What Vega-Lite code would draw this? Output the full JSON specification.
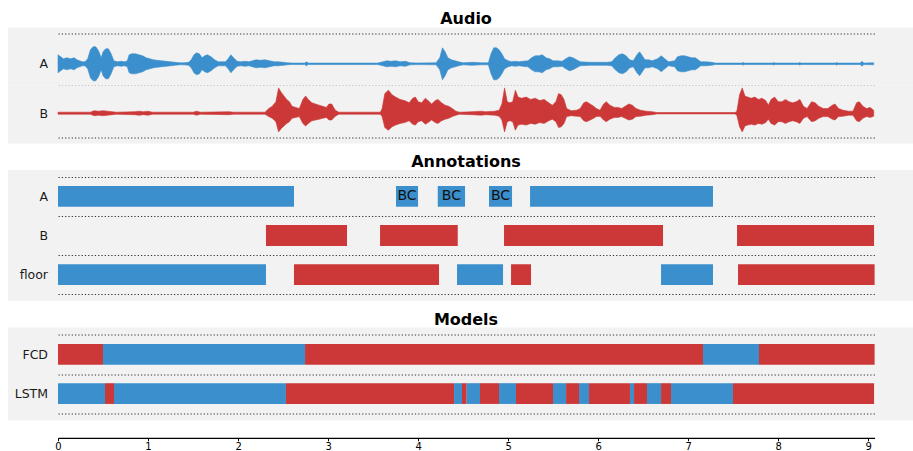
{
  "$schema": "https://vega.github.io/schema/vega-lite/v6.json",
  "padding": {"left": 8, "top": 10.5, "right": 0, "bottom": 0},
  "background": "white",
  "config": {
    "font": "DejaVu Sans",
    "view": {"stroke": null, "fill": "#f2f2f2"},
    "title": {"fontSize": 16, "fontWeight": "bold", "color": "black", "anchor": "middle", "dx": 5.5, "offset": 1, "baseline": "alphabetic"},
    "axis": {"minExtent": 0, "maxExtent": 0}
  },
  "datasets": {
    "waveA": [
      {"t":0.00,"hi":0.45,"lo":-0.45},{"t":0.03,"hi":0.35,"lo":-0.35},{"t":0.06,"hi":0.25,"lo":-0.25},{"t":0.10,"hi":0.3,"lo":-0.3},
      {"t":0.14,"hi":0.25,"lo":-0.25},{"t":0.18,"hi":0.3,"lo":-0.3},{"t":0.21,"hi":0.2,"lo":-0.2},{"t":0.24,"hi":0.15,"lo":-0.15},
      {"t":0.27,"hi":0.1,"lo":-0.1},{"t":0.30,"hi":0.1,"lo":-0.1},{"t":0.33,"hi":0.25,"lo":-0.25},{"t":0.36,"hi":0.7,"lo":-0.7},
      {"t":0.39,"hi":0.85,"lo":-0.85},{"t":0.42,"hi":0.85,"lo":-0.85},{"t":0.45,"hi":0.65,"lo":-0.65},{"t":0.48,"hi":0.3,"lo":-0.3},
      {"t":0.50,"hi":0.6,"lo":-0.6},{"t":0.53,"hi":0.75,"lo":-0.75},{"t":0.56,"hi":0.75,"lo":-0.75},{"t":0.59,"hi":0.5,"lo":-0.5},
      {"t":0.62,"hi":0.15,"lo":-0.15},{"t":0.66,"hi":0.1,"lo":-0.1},{"t":0.70,"hi":0.125,"lo":-0.125},{"t":0.74,"hi":0.1,"lo":-0.1},
      {"t":0.77,"hi":0.15,"lo":-0.15},{"t":0.79,"hi":0.45,"lo":-0.45},{"t":0.82,"hi":0.5,"lo":-0.5},{"t":0.86,"hi":0.5,"lo":-0.5},
      {"t":0.90,"hi":0.45,"lo":-0.45},{"t":0.94,"hi":0.4,"lo":-0.4},{"t":0.98,"hi":0.3,"lo":-0.3},{"t":1.02,"hi":0.25,"lo":-0.25},
      {"t":1.06,"hi":0.2,"lo":-0.2},{"t":1.10,"hi":0.175,"lo":-0.175},{"t":1.15,"hi":0.15,"lo":-0.15},{"t":1.20,"hi":0.125,"lo":-0.125},
      {"t":1.25,"hi":0.1,"lo":-0.1},{"t":1.30,"hi":0.075,"lo":-0.075},{"t":1.35,"hi":0.05,"lo":-0.05},{"t":1.40,"hi":0.05,"lo":-0.05},
      {"t":1.45,"hi":0.075,"lo":-0.075},{"t":1.48,"hi":0.2,"lo":-0.2},{"t":1.51,"hi":0.45,"lo":-0.45},{"t":1.54,"hi":0.55,"lo":-0.55},
      {"t":1.57,"hi":0.5,"lo":-0.5},{"t":1.60,"hi":0.3,"lo":-0.3},{"t":1.63,"hi":0.4,"lo":-0.4},{"t":1.66,"hi":0.45,"lo":-0.45},
      {"t":1.70,"hi":0.35,"lo":-0.35},{"t":1.74,"hi":0.2,"lo":-0.2},{"t":1.78,"hi":0.1,"lo":-0.1},{"t":1.82,"hi":0.1,"lo":-0.1},
      {"t":1.86,"hi":0.1,"lo":-0.1},{"t":1.89,"hi":0.25,"lo":-0.25},{"t":1.92,"hi":0.45,"lo":-0.45},{"t":1.95,"hi":0.3,"lo":-0.3},
      {"t":1.99,"hi":0.125,"lo":-0.125},{"t":2.03,"hi":0.1,"lo":-0.1},{"t":2.08,"hi":0.125,"lo":-0.125},{"t":2.12,"hi":0.1,"lo":-0.1},
      {"t":2.16,"hi":0.15,"lo":-0.15},{"t":2.20,"hi":0.2,"lo":-0.2},{"t":2.25,"hi":0.175,"lo":-0.175},{"t":2.30,"hi":0.2,"lo":-0.2},
      {"t":2.35,"hi":0.15,"lo":-0.15},{"t":2.40,"hi":0.1,"lo":-0.1},{"t":2.45,"hi":0.1,"lo":-0.1},{"t":2.50,"hi":0.075,"lo":-0.075},
      {"t":2.55,"hi":0.05,"lo":-0.05},{"t":2.60,"hi":0.035,"lo":-0.035},{"t":2.74,"hi":0.035,"lo":-0.035},{"t":2.76,"hi":0.1,"lo":-0.1},
      {"t":2.78,"hi":0.035,"lo":-0.035},{"t":3.55,"hi":0.035,"lo":-0.035},{"t":3.61,"hi":0.1,"lo":-0.1},{"t":3.65,"hi":0.15,"lo":-0.15},
      {"t":3.70,"hi":0.125,"lo":-0.125},{"t":3.75,"hi":0.15,"lo":-0.15},{"t":3.80,"hi":0.1,"lo":-0.1},{"t":3.86,"hi":0.125,"lo":-0.125},
      {"t":3.91,"hi":0.05,"lo":-0.05},{"t":4.00,"hi":0.04,"lo":-0.04},{"t":4.20,"hi":0.05,"lo":-0.05},{"t":4.24,"hi":0.3,"lo":-0.3},
      {"t":4.27,"hi":0.8,"lo":-0.8},{"t":4.30,"hi":0.6,"lo":-0.6},{"t":4.33,"hi":0.3,"lo":-0.3},{"t":4.37,"hi":0.2,"lo":-0.2},
      {"t":4.41,"hi":0.15,"lo":-0.15},{"t":4.45,"hi":0.1,"lo":-0.1},{"t":4.50,"hi":0.05,"lo":-0.05},{"t":4.60,"hi":0.075,"lo":-0.075},
      {"t":4.70,"hi":0.05,"lo":-0.05},{"t":4.78,"hi":0.05,"lo":-0.05},{"t":4.81,"hi":0.5,"lo":-0.5},{"t":4.84,"hi":0.8,"lo":-0.8},
      {"t":4.87,"hi":0.8,"lo":-0.8},{"t":4.90,"hi":0.7,"lo":-0.7},{"t":4.93,"hi":0.5,"lo":-0.5},{"t":4.96,"hi":0.25,"lo":-0.25},
      {"t":5.00,"hi":0.15,"lo":-0.15},{"t":5.04,"hi":0.1,"lo":-0.1},{"t":5.08,"hi":0.125,"lo":-0.125},{"t":5.12,"hi":0.1,"lo":-0.1},
      {"t":5.16,"hi":0.125,"lo":-0.125},{"t":5.22,"hi":0.15,"lo":-0.15},{"t":5.26,"hi":0.3,"lo":-0.3},{"t":5.30,"hi":0.4,"lo":-0.4},
      {"t":5.34,"hi":0.4,"lo":-0.4},{"t":5.38,"hi":0.45,"lo":-0.45},{"t":5.42,"hi":0.3,"lo":-0.3},{"t":5.46,"hi":0.25,"lo":-0.25},
      {"t":5.50,"hi":0.15,"lo":-0.15},{"t":5.55,"hi":0.15,"lo":-0.15},{"t":5.60,"hi":0.125,"lo":-0.125},{"t":5.64,"hi":0.25,"lo":-0.25},
      {"t":5.68,"hi":0.35,"lo":-0.35},{"t":5.72,"hi":0.3,"lo":-0.3},{"t":5.76,"hi":0.2,"lo":-0.2},{"t":5.80,"hi":0.1,"lo":-0.1},
      {"t":5.90,"hi":0.075,"lo":-0.075},{"t":6.00,"hi":0.075,"lo":-0.075},{"t":6.10,"hi":0.075,"lo":-0.075},{"t":6.15,"hi":0.1,"lo":-0.1},
      {"t":6.19,"hi":0.3,"lo":-0.3},{"t":6.23,"hi":0.45,"lo":-0.45},{"t":6.27,"hi":0.5,"lo":-0.5},{"t":6.31,"hi":0.4,"lo":-0.4},
      {"t":6.35,"hi":0.2,"lo":-0.2},{"t":6.39,"hi":0.15,"lo":-0.15},{"t":6.43,"hi":0.45,"lo":-0.45},{"t":6.46,"hi":0.6,"lo":-0.6},
      {"t":6.49,"hi":0.4,"lo":-0.4},{"t":6.52,"hi":0.2,"lo":-0.2},{"t":6.56,"hi":0.2,"lo":-0.2},{"t":6.60,"hi":0.15,"lo":-0.15},
      {"t":6.66,"hi":0.25,"lo":-0.25},{"t":6.70,"hi":0.4,"lo":-0.4},{"t":6.74,"hi":0.25,"lo":-0.25},{"t":6.78,"hi":0.1,"lo":-0.1},
      {"t":6.85,"hi":0.15,"lo":-0.15},{"t":6.88,"hi":0.35,"lo":-0.35},{"t":6.92,"hi":0.4,"lo":-0.4},{"t":6.96,"hi":0.4,"lo":-0.4},
      {"t":7.00,"hi":0.35,"lo":-0.35},{"t":7.04,"hi":0.3,"lo":-0.3},{"t":7.08,"hi":0.3,"lo":-0.3},{"t":7.11,"hi":0.2,"lo":-0.2},
      {"t":7.14,"hi":0.1,"lo":-0.1},{"t":7.20,"hi":0.1,"lo":-0.1},{"t":7.26,"hi":0.075,"lo":-0.075},{"t":7.30,"hi":0.035,"lo":-0.035},
      {"t":7.60,"hi":0.035,"lo":-0.035},{"t":7.61,"hi":0.075,"lo":-0.075},{"t":7.62,"hi":0.035,"lo":-0.035},{"t":7.94,"hi":0.035,"lo":-0.035},
      {"t":7.95,"hi":0.075,"lo":-0.075},{"t":7.96,"hi":0.035,"lo":-0.035},{"t":8.23,"hi":0.035,"lo":-0.035},{"t":8.24,"hi":0.075,"lo":-0.075},
      {"t":8.25,"hi":0.035,"lo":-0.035},{"t":8.64,"hi":0.035,"lo":-0.035},{"t":8.65,"hi":0.075,"lo":-0.075},{"t":8.66,"hi":0.035,"lo":-0.035},
      {"t":8.91,"hi":0.035,"lo":-0.035},{"t":8.93,"hi":0.125,"lo":-0.125},{"t":8.95,"hi":0.035,"lo":-0.035},{"t":9.06,"hi":0.05,"lo":-0.05}
    ],
    "waveB": [
      {"t":0.00,"hi":0.05,"lo":-0.05},{"t":0.36,"hi":0.05,"lo":-0.05},{"t":0.40,"hi":0.125,"lo":-0.125},{"t":0.45,"hi":0.1,"lo":-0.1},
      {"t":0.50,"hi":0.125,"lo":-0.125},{"t":0.55,"hi":0.1,"lo":-0.1},{"t":0.60,"hi":0.075,"lo":-0.075},{"t":0.65,"hi":0.05,"lo":-0.05},
      {"t":0.85,"hi":0.075,"lo":-0.075},{"t":0.90,"hi":0.1,"lo":-0.1},{"t":0.95,"hi":0.075,"lo":-0.075},{"t":1.00,"hi":0.1,"lo":-0.1},
      {"t":1.05,"hi":0.05,"lo":-0.05},{"t":1.50,"hi":0.05,"lo":-0.05},{"t":1.54,"hi":0.1,"lo":-0.1},{"t":1.58,"hi":0.05,"lo":-0.05},
      {"t":1.90,"hi":0.075,"lo":-0.075},{"t":1.95,"hi":0.05,"lo":-0.05},{"t":2.30,"hi":0.05,"lo":-0.05},{"t":2.34,"hi":0.23,"lo":-0.17},
      {"t":2.38,"hi":0.345,"lo":-0.255},{"t":2.42,"hi":0.575,"lo":-0.425},{"t":2.45,"hi":1.265,"lo":-0.935},{"t":2.48,"hi":1.035,"lo":-0.765},
      {"t":2.51,"hi":0.86,"lo":-0.64},{"t":2.54,"hi":0.69,"lo":-0.51},{"t":2.57,"hi":0.575,"lo":-0.425},{"t":2.60,"hi":0.345,"lo":-0.255},
      {"t":2.64,"hi":0.29,"lo":-0.21},{"t":2.68,"hi":0.23,"lo":-0.17},{"t":2.72,"hi":0.69,"lo":-0.51},{"t":2.75,"hi":0.86,"lo":-0.64},
      {"t":2.78,"hi":0.69,"lo":-0.51},{"t":2.82,"hi":0.52,"lo":-0.38},{"t":2.86,"hi":0.46,"lo":-0.34},{"t":2.90,"hi":0.4,"lo":-0.3},
      {"t":2.94,"hi":0.345,"lo":-0.255},{"t":2.98,"hi":0.29,"lo":-0.21},{"t":3.01,"hi":0.46,"lo":-0.34},{"t":3.04,"hi":0.46,"lo":-0.34},
      {"t":3.08,"hi":0.15,"lo":-0.15},{"t":3.12,"hi":0.05,"lo":-0.05},{"t":3.58,"hi":0.05,"lo":-0.05},{"t":3.60,"hi":0.23,"lo":-0.17},
      {"t":3.63,"hi":0.98,"lo":-0.72},{"t":3.67,"hi":1.15,"lo":-0.85},{"t":3.71,"hi":0.92,"lo":-0.68},{"t":3.75,"hi":0.805,"lo":-0.595},
      {"t":3.80,"hi":0.69,"lo":-0.51},{"t":3.85,"hi":0.63,"lo":-0.47},{"t":3.90,"hi":0.52,"lo":-0.38},{"t":3.94,"hi":0.75,"lo":-0.55},
      {"t":3.97,"hi":0.805,"lo":-0.595},{"t":4.00,"hi":0.575,"lo":-0.425},{"t":4.04,"hi":0.52,"lo":-0.38},{"t":4.08,"hi":0.75,"lo":-0.55},
      {"t":4.11,"hi":0.63,"lo":-0.47},{"t":4.15,"hi":0.46,"lo":-0.34},{"t":4.19,"hi":0.63,"lo":-0.47},{"t":4.22,"hi":0.69,"lo":-0.51},
      {"t":4.26,"hi":0.52,"lo":-0.38},{"t":4.30,"hi":0.4,"lo":-0.3},{"t":4.34,"hi":0.345,"lo":-0.255},{"t":4.38,"hi":0.23,"lo":-0.17},
      {"t":4.42,"hi":0.1,"lo":-0.1},{"t":4.46,"hi":0.05,"lo":-0.05},{"t":4.60,"hi":0.075,"lo":-0.075},{"t":4.70,"hi":0.1,"lo":-0.1},
      {"t":4.75,"hi":0.075,"lo":-0.075},{"t":4.85,"hi":0.1,"lo":-0.1},{"t":4.90,"hi":0.15,"lo":-0.15},{"t":4.93,"hi":0.46,"lo":-0.34},
      {"t":4.96,"hi":1.265,"lo":-0.935},{"t":4.99,"hi":0.575,"lo":-0.425},{"t":5.02,"hi":0.52,"lo":-0.38},{"t":5.05,"hi":0.575,"lo":-0.425},
      {"t":5.08,"hi":1.15,"lo":-0.85},{"t":5.11,"hi":0.805,"lo":-0.595},{"t":5.15,"hi":0.75,"lo":-0.55},{"t":5.20,"hi":0.805,"lo":-0.595},
      {"t":5.25,"hi":0.69,"lo":-0.51},{"t":5.30,"hi":0.75,"lo":-0.55},{"t":5.35,"hi":0.63,"lo":-0.47},{"t":5.40,"hi":0.69,"lo":-0.51},
      {"t":5.45,"hi":0.52,"lo":-0.38},{"t":5.49,"hi":0.4,"lo":-0.3},{"t":5.53,"hi":0.575,"lo":-0.425},{"t":5.56,"hi":0.98,"lo":-0.72},
      {"t":5.59,"hi":0.92,"lo":-0.68},{"t":5.62,"hi":0.69,"lo":-0.51},{"t":5.65,"hi":0.23,"lo":-0.17},{"t":5.70,"hi":0.125,"lo":-0.125},
      {"t":5.76,"hi":0.15,"lo":-0.15},{"t":5.80,"hi":0.23,"lo":-0.17},{"t":5.84,"hi":0.52,"lo":-0.38},{"t":5.87,"hi":0.575,"lo":-0.425},
      {"t":5.91,"hi":0.46,"lo":-0.34},{"t":5.95,"hi":0.345,"lo":-0.255},{"t":5.98,"hi":0.23,"lo":-0.17},{"t":6.02,"hi":0.15,"lo":-0.15},
      {"t":6.06,"hi":0.46,"lo":-0.34},{"t":6.09,"hi":0.575,"lo":-0.425},{"t":6.13,"hi":0.4,"lo":-0.3},{"t":6.18,"hi":0.29,"lo":-0.21},
      {"t":6.22,"hi":0.29,"lo":-0.21},{"t":6.26,"hi":0.23,"lo":-0.17},{"t":6.30,"hi":0.345,"lo":-0.255},{"t":6.34,"hi":0.46,"lo":-0.34},
      {"t":6.38,"hi":0.4,"lo":-0.3},{"t":6.42,"hi":0.23,"lo":-0.17},{"t":6.47,"hi":0.15,"lo":-0.15},{"t":6.53,"hi":0.1,"lo":-0.1},
      {"t":6.60,"hi":0.075,"lo":-0.075},{"t":6.65,"hi":0.035,"lo":-0.035},{"t":7.52,"hi":0.035,"lo":-0.035},{"t":7.54,"hi":0.1,"lo":-0.1},
      {"t":7.57,"hi":0.92,"lo":-0.68},{"t":7.60,"hi":1.265,"lo":-0.935},{"t":7.63,"hi":0.86,"lo":-0.64},{"t":7.66,"hi":0.805,"lo":-0.595},
      {"t":7.70,"hi":0.75,"lo":-0.55},{"t":7.74,"hi":0.805,"lo":-0.595},{"t":7.78,"hi":0.69,"lo":-0.51},{"t":7.82,"hi":0.75,"lo":-0.55},
      {"t":7.86,"hi":0.63,"lo":-0.47},{"t":7.89,"hi":0.4,"lo":-0.3},{"t":7.92,"hi":0.69,"lo":-0.51},{"t":7.96,"hi":0.805,"lo":-0.595},
      {"t":8.00,"hi":0.575,"lo":-0.425},{"t":8.04,"hi":0.575,"lo":-0.425},{"t":8.08,"hi":0.69,"lo":-0.51},{"t":8.12,"hi":0.575,"lo":-0.425},
      {"t":8.16,"hi":0.52,"lo":-0.38},{"t":8.20,"hi":0.575,"lo":-0.425},{"t":8.24,"hi":0.69,"lo":-0.51},{"t":8.28,"hi":0.345,"lo":-0.255},
      {"t":8.32,"hi":0.23,"lo":-0.17},{"t":8.37,"hi":0.575,"lo":-0.425},{"t":8.41,"hi":0.52,"lo":-0.38},{"t":8.45,"hi":0.345,"lo":-0.255},
      {"t":8.50,"hi":0.23,"lo":-0.17},{"t":8.55,"hi":0.23,"lo":-0.17},{"t":8.60,"hi":0.4,"lo":-0.3},{"t":8.63,"hi":0.46,"lo":-0.34},
      {"t":8.67,"hi":0.23,"lo":-0.17},{"t":8.72,"hi":0.15,"lo":-0.15},{"t":8.78,"hi":0.1,"lo":-0.1},{"t":8.83,"hi":0.1,"lo":-0.1},
      {"t":8.87,"hi":0.52,"lo":-0.38},{"t":8.90,"hi":0.575,"lo":-0.425},{"t":8.94,"hi":0.345,"lo":-0.255},{"t":8.98,"hi":0.23,"lo":-0.17},
      {"t":9.02,"hi":0.29,"lo":-0.21},{"t":9.06,"hi":0.15,"lo":-0.15}
    ],
    "ann": [
      {"row":"A","start":0,"end":2.621,"who":"A","label":""},
      {"row":"A","start":3.754,"end":3.999,"who":"A","label":"BC"},
      {"row":"A","start":4.218,"end":4.521,"who":"A","label":"BC"},
      {"row":"A","start":4.787,"end":5.043,"who":"A","label":"BC"},
      {"row":"A","start":5.243,"end":7.275,"who":"A","label":""},
      {"row":"B","start":2.31,"end":3.21,"who":"B","label":""},
      {"row":"B","start":3.577,"end":4.44,"who":"B","label":""},
      {"row":"B","start":4.954,"end":6.72,"who":"B","label":""},
      {"row":"B","start":7.542,"end":9.064,"who":"B","label":""},
      {"row":"floor","start":0,"end":2.31,"who":"A","label":""},
      {"row":"floor","start":2.621,"end":4.232,"who":"B","label":""},
      {"row":"floor","start":4.432,"end":4.943,"who":"A","label":""},
      {"row":"floor","start":5.032,"end":5.254,"who":"B","label":""},
      {"row":"floor","start":6.698,"end":7.275,"who":"A","label":""},
      {"row":"floor","start":7.553,"end":9.07,"who":"B","label":""}
    ],
    "models": [
      {"model":"FCD","start":0,"end":0.5,"who":"B"},
      {"model":"FCD","start":0.5,"end":2.744,"who":"A"},
      {"model":"FCD","start":2.744,"end":7.164,"who":"B"},
      {"model":"FCD","start":7.164,"end":7.786,"who":"A"},
      {"model":"FCD","start":7.786,"end":9.07,"who":"B"},
      {"model":"LSTM","start":0,"end":0.522,"who":"A"},
      {"model":"LSTM","start":0.522,"end":0.622,"who":"B"},
      {"model":"LSTM","start":0.622,"end":2.532,"who":"A"},
      {"model":"LSTM","start":2.532,"end":4.399,"who":"B"},
      {"model":"LSTM","start":4.399,"end":4.487,"who":"A"},
      {"model":"LSTM","start":4.487,"end":4.539,"who":"B"},
      {"model":"LSTM","start":4.539,"end":4.687,"who":"A"},
      {"model":"LSTM","start":4.687,"end":4.898,"who":"B"},
      {"model":"LSTM","start":4.898,"end":5.087,"who":"A"},
      {"model":"LSTM","start":5.087,"end":5.498,"who":"B"},
      {"model":"LSTM","start":5.498,"end":5.643,"who":"A"},
      {"model":"LSTM","start":5.643,"end":5.787,"who":"B"},
      {"model":"LSTM","start":5.787,"end":5.898,"who":"A"},
      {"model":"LSTM","start":5.898,"end":6.353,"who":"B"},
      {"model":"LSTM","start":6.353,"end":6.398,"who":"A"},
      {"model":"LSTM","start":6.398,"end":6.542,"who":"B"},
      {"model":"LSTM","start":6.542,"end":6.698,"who":"A"},
      {"model":"LSTM","start":6.698,"end":6.809,"who":"B"},
      {"model":"LSTM","start":6.809,"end":7.497,"who":"A"},
      {"model":"LSTM","start":7.497,"end":9.064,"who":"B"}
    ]
  },
  "spacing": 10.5,
  "vconcat": [
    {
      "title": "Audio",
      "spacing": 0,
      "vconcat": [
        {
          "width": 905, "height": 58,
          "data": {"name": "waveA"},
          "mark": {"type": "area", "color": "#3a8fcc", "stroke": "#3a8fcc", "strokeWidth": 0.6},
          "encoding": {
            "x": {"field": "t", "type": "quantitative", "scale": {"domain": [0, 9.07], "range": [50, 866.6], "nice": false, "zero": false}, "axis": null},
            "y": {"field": "hi", "type": "quantitative", "scale": {"domain": [-1.085, 1.815], "nice": false, "zero": false},
              "axis": {"title": "A", "values": [1.49, -1.085], "grid": true, "gridDash": [1.25, 2.05], "gridColor": "#333333", "gridWidth": 1,
                "domain": false, "ticks": false, "labels": false, "titleAngle": 0, "titleAlign": "right", "titleBaseline": "middle",
                "titleX": 39.5, "titleY": 36.3, "titleFontSize": 12.5, "titleFontWeight": "normal", "titleColor": "#1a1a1a", "titlePadding": 0}},
            "y2": {"field": "lo"}
          }
        },
        {
          "width": 905, "height": 58,
          "data": {"name": "waveB"},
          "mark": {"type": "area", "color": "#cc3838", "stroke": "#cc3838", "strokeWidth": 0.6},
          "encoding": {
            "x": {"field": "t", "type": "quantitative", "scale": {"domain": [0, 9.07], "range": [50, 866.6], "nice": false, "zero": false}, "axis": null},
            "y": {"field": "hi", "type": "quantitative", "scale": {"domain": [-1.515, 1.385], "nice": false, "zero": false},
              "axis": {"title": "B", "values": [-1.19], "grid": true, "gridDash": [1.25, 2.05], "gridColor": "#333333", "gridWidth": 1,
                "domain": false, "ticks": false, "labels": false, "titleAngle": 0, "titleAlign": "right", "titleBaseline": "middle",
                "titleX": 39.5, "titleY": 27.7, "titleFontSize": 12.5, "titleFontWeight": "normal", "titleColor": "#1a1a1a", "titlePadding": 0}},
            "y2": {"field": "lo"}
          }
        }
      ]
    },
    {
      "title": {"text": "Annotations", "offset": -6},
      "vconcat": [
        {
          "width": 905, "height": 131,
          "data": {"name": "ann"},
          "layer": [
            {
              "mark": {"type": "bar", "height": {"band": 0.53}},
              "encoding": {
                "x": {"field": "start", "type": "quantitative", "scale": {"domain": [0, 9.07], "range": [50, 866.6], "nice": false, "zero": false}, "axis": null},
                "x2": {"field": "end"},
                "y": {"field": "row", "type": "nominal", "scale": {"domain": ["A", "B", "floor"], "paddingInner": 0, "paddingOuter": 0.173},
                  "axis": {"title": null, "domain": false, "ticks": false, "tickSize": 0, "labelPadding": -39.5, "labelAlign": "right",
                    "labelFontSize": 12.5, "labelColor": "#1a1a1a", "grid": true, "tickBand": "extent", "gridDash": [1.25, 2.05], "gridColor": "#333333", "gridWidth": 1}},
                "color": {"field": "who", "type": "nominal", "scale": {"domain": ["A", "B"], "range": ["#3a8fcc", "#cc3838"]}, "legend": null}
              }
            },
            {
              "transform": [{"filter": "datum.label != ''"}, {"calculate": "(datum.start + datum.end) / 2", "as": "mid"}],
              "mark": {"type": "text", "fontSize": 14, "color": "#111111"},
              "encoding": {
                "x": {"field": "mid", "type": "quantitative", "scale": {"domain": [0, 9.07], "range": [50, 866.6], "nice": false, "zero": false}, "axis": null},
                "y": {"field": "row", "type": "nominal"},
                "text": {"field": "label"}
              }
            }
          ]
        }
      ]
    },
    {
      "title": {"text": "Models", "offset": -6},
      "vconcat": [
        {
          "width": 905, "height": 93,
          "data": {"name": "models"},
          "mark": {"type": "bar", "height": {"band": 0.53}},
          "encoding": {
            "x": {"field": "start", "type": "quantitative", "scale": {"domain": [0, 9.07], "range": [50, 866.6], "nice": false, "zero": false},
              "axis": {"orient": "bottom", "offset": 17.3, "values": [0,1,2,3,4,5,6,7,8,9], "format": "d", "title": null, "grid": false,
                "domainColor": "black", "domainWidth": 1.2, "tickColor": "black", "tickSize": 3, "tickWidth": 1,
                "labelFontSize": 10, "labelColor": "black", "labelPadding": 1, "labelFlush": false}},
            "x2": {"field": "end"},
            "y": {"field": "model", "type": "nominal", "scale": {"domain": ["FCD", "LSTM"], "paddingInner": 0, "paddingOuter": 0.188},
              "axis": {"title": null, "domain": false, "ticks": false, "tickSize": 0, "labelPadding": -39.5, "labelAlign": "right",
                "labelFontSize": 12.5, "labelColor": "#1a1a1a", "grid": true, "tickBand": "extent", "gridDash": [1.25, 2.05], "gridColor": "#333333", "gridWidth": 1}},
            "color": {"field": "who", "type": "nominal", "scale": {"domain": ["A", "B"], "range": ["#3a8fcc", "#cc3838"]}, "legend": null}
          }
        }
      ]
    }
  ]
}
